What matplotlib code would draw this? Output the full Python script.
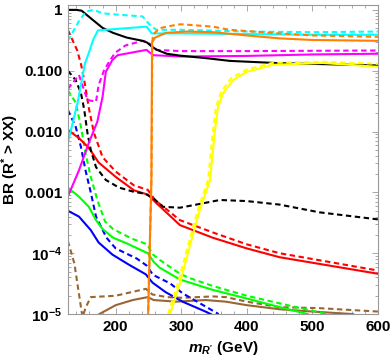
import matplotlib
matplotlib.use("Agg")
import matplotlib.pyplot as plt
from matplotlib.ticker import FixedLocator, FixedFormatter, MultipleLocator, LogLocator, NullFormatter

plt.rcParams['font.family'] = ['Liberation Sans', 'DejaVu Sans']
plt.rcParams['font.weight'] = 'bold'
plt.rcParams['mathtext.fontset'] = 'custom'
plt.rcParams['mathtext.rm'] = 'Liberation Sans:bold'
plt.rcParams['mathtext.it'] = 'Liberation Sans:italic:bold'
plt.rcParams['mathtext.bf'] = 'Liberation Sans:bold'

# ---- data (m_R' in GeV, branching ratios) ----
black_solid_x = [127, 140, 148, 165, 180, 196, 217, 241, 248, 255, 263, 278, 298, 340, 374, 450, 520, 600]
black_solid_y = [1.0, 1.0, 0.97, 0.685, 0.506, 0.419, 0.35, 0.31, 0.29, 0.25, 0.22, 0.19, 0.177, 0.16, 0.145, 0.133, 0.128, 0.122]

cyan_solid_x = [127, 142, 153, 160, 166, 173, 247, 255, 300, 400, 500, 600]
cyan_solid_y = [0.0065, 0.03, 0.13, 0.21, 0.33, 0.46, 0.53, 0.41, 0.41, 0.40, 0.39, 0.39]

cyan_dashed_x = [127, 145, 155, 166, 180, 200, 241, 252, 262, 300, 400, 500, 600]
cyan_dashed_y = [0.31, 0.685, 0.94, 1.0, 0.88, 0.84, 0.78, 0.57, 0.47, 0.47, 0.44, 0.43, 0.44]

orange_solid_x = [249.3, 254.5, 255.5, 260, 277, 308, 348, 400, 450, 500, 600]
orange_solid_y = [8e-6, 1.6e-3, 0.29, 0.35, 0.42, 0.44, 0.43, 0.38, 0.34, 0.32, 0.31]

orange_dashed_x = [249.3, 254.5, 256, 257, 267, 293, 300, 348, 374, 450, 500, 600]
orange_dashed_y = [8e-6, 1.6e-3, 0.3, 0.39, 0.5, 0.57, 0.58, 0.53, 0.47, 0.41, 0.38, 0.36]

magenta_solid_x = [127, 144, 159, 172, 180, 185, 195, 203, 247, 257, 300, 400, 500, 600]
magenta_solid_y = [0.00085, 0.0023, 0.0065, 0.0145, 0.037, 0.096, 0.15, 0.18, 0.22, 0.18, 0.171, 0.175, 0.185, 0.19]

magenta_dashed_x = [127, 144, 157, 170, 174, 182, 190, 199, 215, 241, 250, 262, 300, 400, 600]
magenta_dashed_y = [0.05, 0.085, 0.033, 0.031, 0.058, 0.1, 0.14, 0.196, 0.26, 0.31, 0.29, 0.22, 0.21, 0.21, 0.215]

red_dashed_x = [127, 141, 147, 152, 159.5, 167, 180, 200, 228, 249, 260, 298, 348, 400, 450, 600]
red_dashed_y = [0.47, 0.22, 0.13, 0.07, 0.023, 0.0094, 0.0038, 0.0022, 0.0013, 0.0011, 0.00075, 3.5e-4, 2.2e-4, 1.4e-4, 1.0e-4, 5.2e-5]

red_solid_x = [127, 144, 159, 174, 200, 228, 249, 260, 298, 348, 400, 450, 600]
red_solid_y = [0.0107, 0.0078, 0.0054, 0.0031, 0.0018, 0.00108, 0.00092, 0.0007, 2.9e-4, 1.8e-4, 1.2e-4, 8.6e-5, 4.6e-5]

black_dashed_x = [127, 139, 147, 152, 157, 162, 170, 185, 205, 228, 245, 257, 272, 298, 323, 359, 400, 450, 511, 600]
black_dashed_y = [0.1, 0.07, 0.043, 0.023, 0.0094, 0.005, 0.0026, 0.0016, 0.0012, 0.00102, 0.00095, 8.1e-4, 5.8e-4, 5.6e-4, 6.3e-4, 7.5e-4, 7.2e-4, 6.3e-4, 4.7e-4, 3.6e-4]

green_solid_x = [127, 144, 159, 170, 180, 196, 217, 249, 258, 267, 298, 348, 400, 450, 493]
green_solid_y = [0.0012, 8.5e-4, 5.8e-4, 3.5e-4, 2.5e-4, 1.8e-4, 1.45e-4, 1.0e-4, 7.2e-5, 5.8e-5, 3.7e-5, 2.5e-5, 1.8e-5, 1.3e-5, 1.0e-5]

green_dashed_x = [127, 139, 147, 154, 162, 172, 184, 196, 224, 248, 257, 267, 298, 313, 348, 400, 450, 522]
green_dashed_y = [0.048, 0.03, 0.012, 0.0044, 0.0018, 7.5e-4, 3.3e-4, 2.5e-4, 1.75e-4, 1.4e-4, 9.5e-5, 7.8e-5, 4.6e-5, 3.9e-5, 2.9e-5, 2.0e-5, 1.5e-5, 1.0e-5]

blue_solid_x = [127, 144, 162, 174, 195, 220, 246, 256, 276, 302, 337, 345]
blue_solid_y = [5e-4, 4e-4, 2.4e-4, 1.5e-4, 9.5e-5, 6.5e-5, 4.5e-5, 3.3e-5, 2.3e-5, 1.6e-5, 1.1e-5, 1.0e-5]

blue_dashed_x = [127, 139, 147, 154, 162, 170, 186, 200, 232, 247, 257, 283, 302, 357]
blue_dashed_y = [0.0227, 0.012, 0.0056, 0.0023, 0.001, 4e-4, 1.8e-4, 1.2e-4, 8.2e-5, 6.3e-5, 4.4e-5, 3.2e-5, 2.2e-5, 1.0e-5]

brown_dashed_x = [127, 137, 147, 149.5, 154.5, 162, 200, 246, 256, 278, 302, 348, 368, 400, 450, 511, 600]
brown_dashed_y = [1.6e-4, 6.8e-5, 1.3e-5, 9e-6, 1.3e-5, 1.9e-5, 2.0e-5, 2.6e-5, 2.1e-5, 1.9e-5, 1.85e-5, 1.95e-5, 1.9e-5, 1.6e-5, 1.3e-5, 1.25e-5, 1.1e-5]

brown_solid_x = [170, 175, 200, 226, 249, 258, 292, 337, 368, 400, 450, 500, 562]
brown_solid_y = [8e-6, 1.0e-5, 1.4e-5, 1.7e-5, 1.9e-5, 1.7e-5, 1.6e-5, 1.7e-5, 1.6e-5, 1.4e-5, 1.2e-5, 1.1e-5, 1.0e-5]

yellow_solid_x = [283, 298, 313, 328, 344, 351, 356, 364, 379, 400, 440, 516, 600]
yellow_solid_y = [1e-5, 3.2e-5, 1.3e-4, 5e-4, 1.6e-3, 0.0094, 0.025, 0.043, 0.07, 0.096, 0.125, 0.134, 0.116]

yellow_dashed_x = [280, 295, 310, 325, 341, 348, 353, 361, 376, 400, 440, 516, 600]
yellow_dashed_y = [1e-5, 3.2e-5, 1.3e-4, 5e-4, 1.6e-3, 0.0094, 0.025, 0.045, 0.075, 0.105, 0.135, 0.14, 0.13]

x_ticks = [200, 300, 400, 500, 600]
x_ticklabels = ['200', '300', '400', '500', '600']
y_ticks = [1e-5, 1e-4, 1e-3, 1e-2, 1e-1, 1]
y_ticklabels = [r'$10^{-5}$', r'$10^{-4}$', '0.001', '0.010', '0.100', '1']

# ---- styles ----
C = {
    'black': '#000000', 'cyan': '#00FFFF', 'orange': '#FF8000', 'magenta': '#FF00FF',
    'red': '#FF0000', 'green': '#00FF00', 'blue': '#0000FF', 'brown': '#996633', 'yellow': '#FFFF00',
}
LW = 1.5
DASH = (0, (2.6, 1.7))

fig = plt.figure(figsize=(3.92, 3.61), dpi=100)
ax = fig.add_axes([0.173, 0.130, 0.791, 0.856])

series = [
    (brown_solid_x, brown_solid_y, 'brown', '-'),
    (brown_dashed_x, brown_dashed_y, 'brown', DASH),
    (blue_solid_x, blue_solid_y, 'blue', '-'),
    (blue_dashed_x, blue_dashed_y, 'blue', DASH),
    (green_solid_x, green_solid_y, 'green', '-'),
    (green_dashed_x, green_dashed_y, 'green', DASH),
    (red_solid_x, red_solid_y, 'red', '-'),
    (red_dashed_x, red_dashed_y, 'red', DASH),
    (black_dashed_x, black_dashed_y, 'black', DASH),
    (magenta_solid_x, magenta_solid_y, 'magenta', '-'),
    (magenta_dashed_x, magenta_dashed_y, 'magenta', DASH),
    (black_solid_x, black_solid_y, 'black', '-'),
    (cyan_solid_x, cyan_solid_y, 'cyan', '-'),
    (cyan_dashed_x, cyan_dashed_y, 'cyan', DASH),
    (orange_solid_x, orange_solid_y, 'orange', '-'),
    (orange_dashed_x, orange_dashed_y, 'orange', DASH),
    (yellow_solid_x, yellow_solid_y, 'yellow', '-'),
    (yellow_dashed_x, yellow_dashed_y, 'yellow', DASH),
]
for xs, ys, c, ls in series:
    ax.plot(xs, ys, color=C[c], linestyle=ls, linewidth=LW, solid_joinstyle='round')

ax.set_yscale('log')
ax.set_xlim(127, 600)
ax.set_ylim(1e-5, 1.2)

ax.xaxis.set_major_locator(FixedLocator(x_ticks))
ax.xaxis.set_major_formatter(FixedFormatter(x_ticklabels))
ax.xaxis.set_minor_locator(MultipleLocator(20))
ax.yaxis.set_major_locator(FixedLocator(y_ticks))
ax.yaxis.set_major_formatter(FixedFormatter(y_ticklabels))
ax.yaxis.set_minor_locator(LogLocator(base=10, subs=range(2, 10)))
ax.yaxis.set_minor_formatter(NullFormatter())

frame = '#999999'
for s in ax.spines.values():
    s.set_color(frame)
    s.set_linewidth(0.8)
ax.tick_params(which='both', direction='in', top=True, right=True, color=frame, width=0.6)
ax.tick_params(which='major', length=4, labelsize=11, pad=4)
ax.tick_params(which='minor', length=2.2)
for lab in ax.get_xticklabels() + ax.get_yticklabels():
    lab.set_fontweight('bold')

ax.set_xlabel(r"$m_{R'}$ (GeV)", fontsize=11, fontweight='bold', labelpad=4)
ax.set_ylabel(r"BR (R$^{*}$ > XX)", fontsize=11, fontweight='bold', labelpad=2)

fig.savefig('out.png', dpi=100)
